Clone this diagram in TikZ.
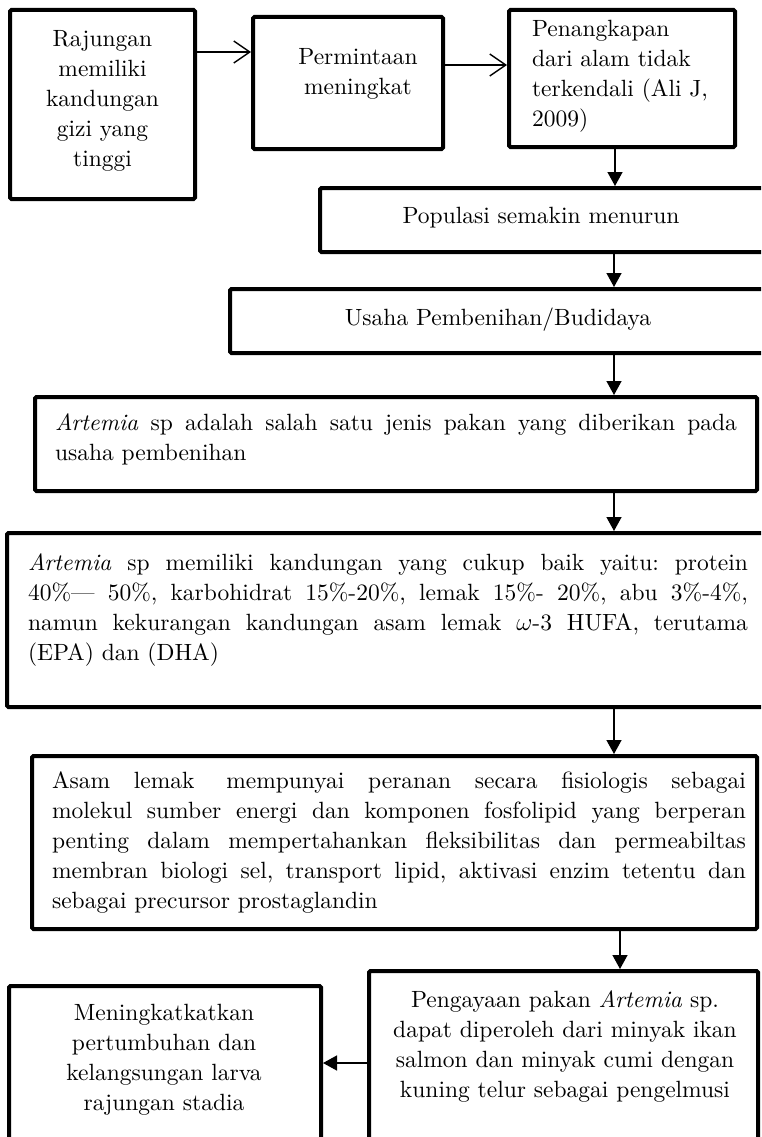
\documentclass[tikz,border=0pt]{standalone}
\usepackage{fontspec}
\setmainfont{lmroman10-regular}[Extension=.otf, ItalicFont=lmroman10-italic, BoldFont=lmroman10-bold, BoldItalicFont=lmroman10-bolditalic]
\usetikzlibrary{arrows.meta,calc}
\newcommand\diagfont{\fontsize{23.5}{30}\selectfont\frenchspacing}
\begin{document}
\begin{tikzpicture}[x=1pt,y=-1pt,
  box/.style={draw, line width=4pt, rounded corners=1.5pt, inner sep=0pt, outer sep=0pt, anchor=north west},
  txt/.style={inner sep=0pt, outer sep=0pt, font=\diagfont},
  ctxt/.style={txt, anchor=north, align=center},
  jtxt/.style={txt, anchor=north west, align=justify},
  openarr/.style={-{Straight Barb[length=16pt,width=22pt]}, line width=1.4pt, shorten >=2pt, shorten <=2pt},
  fillarr/.style={-{Triangle[length=14pt,width=15pt]}, line width=1.4pt, shorten >=2pt, shorten <=2pt}
]
\useasboundingbox (0,0) rectangle (761,1137);
\clip (0,0) rectangle (761,1137);

% boxes
\node[box, minimum width=185pt, minimum height=189pt] (b1) at (10,10) {};
\node[box, minimum width=190pt, minimum height=132pt] (b2) at (253,17) {};
\node[box, minimum width=226pt, minimum height=137pt] (b3) at (509,10) {};
\node[box, minimum width=450pt, minimum height=64pt] (pop) at (320,188) {};
\node[box, minimum width=540pt, minimum height=64pt] (usa) at (230,289) {};
\node[box, minimum width=722pt, minimum height=94pt] (art1) at (35,397) {};
\node[box, minimum width=768pt, minimum height=174pt] (art2) at (7,533) {};
\node[box, minimum width=725pt, minimum height=173pt] (asam) at (32,756) {};
\node[box, minimum width=389pt, minimum height=179pt] (peng) at (369,971) {};
\node[box, minimum width=312pt, minimum height=164pt] (men) at (9,986) {};

% texts
\node[ctxt, text width=180pt] (t1) at (102.5,26) {\strut Rajungan\\memiliki\\kandungan\\gizi yang\\tinggi};
\node[ctxt, text width=190pt] (t2) at (358,44) {\strut Permintaan\\meningkat};
\node[txt, anchor=north west, align=left, text width=220pt] (t3) at (532,16) {\strut Penangkapan\\dari alam tidak\\terkendali (Ali J,\\2009)};
\node[txt, anchor=north] (tpop) at (541,202) {\strut Populasi semakin menurun};
\node[txt, anchor=north] (tusa) at (498,304) {\strut Usaha Pembenihan/Budidaya};
\node[jtxt, text width=682pt] (tart1) at (55,409) {\noindent\strut\textit{Artemia} sp adalah salah satu jenis pakan yang diberikan pada\linebreak usaha pembenihan};
\node[jtxt, text width=720pt] (tart2) at (28,549) {\noindent\strut\textit{Artemia} sp memiliki kandungan yang cukup baik yaitu: protein\linebreak 40\%— 50\%, karbohidrat 15\%-20\%, lemak 15\%- 20\%, abu 3\%-4\%,\linebreak namun kekurangan kandungan asam lemak $\omega$-3 HUFA, terutama\linebreak (EPA) dan (DHA)};
\node[jtxt, text width=694pt] (tasam) at (52,767) {\noindent\strut Asam lemak\kern8pt\ mempunyai peranan secara fisiologis sebagai\linebreak molekul sumber energi dan komponen fosfolipid yang berperan\linebreak penting dalam mempertahankan fleksibilitas dan permeabiltas\linebreak membran biologi sel, transport lipid, aktivasi enzim tetentu dan\linebreak sebagai precursor prostaglandin};
\node[ctxt, text width=380pt] (tpeng) at (565,986) {\strut Pengayaan pakan \textit{Artemia} sp.\\dapat diperoleh dari minyak ikan\\salmon dan minyak cumi dengan\\kuning telur sebagai pengelmusi};
\node[ctxt, text width=310pt] (tmen) at (164,999) {\strut Meningkatkatkan\\pertumbuhan dan\\kelangsungan larva\\rajungan stadia};

% helper coordinates
\coordinate (ya) at (0,52);
\coordinate (yb) at (0,65);
\coordinate (yc) at (0,1063);
\coordinate (cx) at (615,0);
\coordinate (ax) at (614,0);
\coordinate (bx) at (620,0);

% connectors
\draw[openarr] (b1.east |- ya) -- (b2.west |- ya);
\draw[openarr] (b2.east |- yb) -- (b3.west |- yb);
\draw[fillarr] (b3.south -| cx) -- (pop.north -| cx);
\draw[fillarr] (pop.south -| ax) -- (usa.north -| ax);
\draw[fillarr] (usa.south -| ax) -- (art1.north -| ax);
\draw[fillarr] (art1.south -| ax) -- (art2.north -| ax);
\draw[fillarr] (art2.south -| ax) -- (asam.north -| ax);
\draw[fillarr] (asam.south -| bx) -- (peng.north -| bx);
\draw[fillarr] (peng.west |- yc) -- (men.east |- yc);
\end{tikzpicture}
\end{document}
